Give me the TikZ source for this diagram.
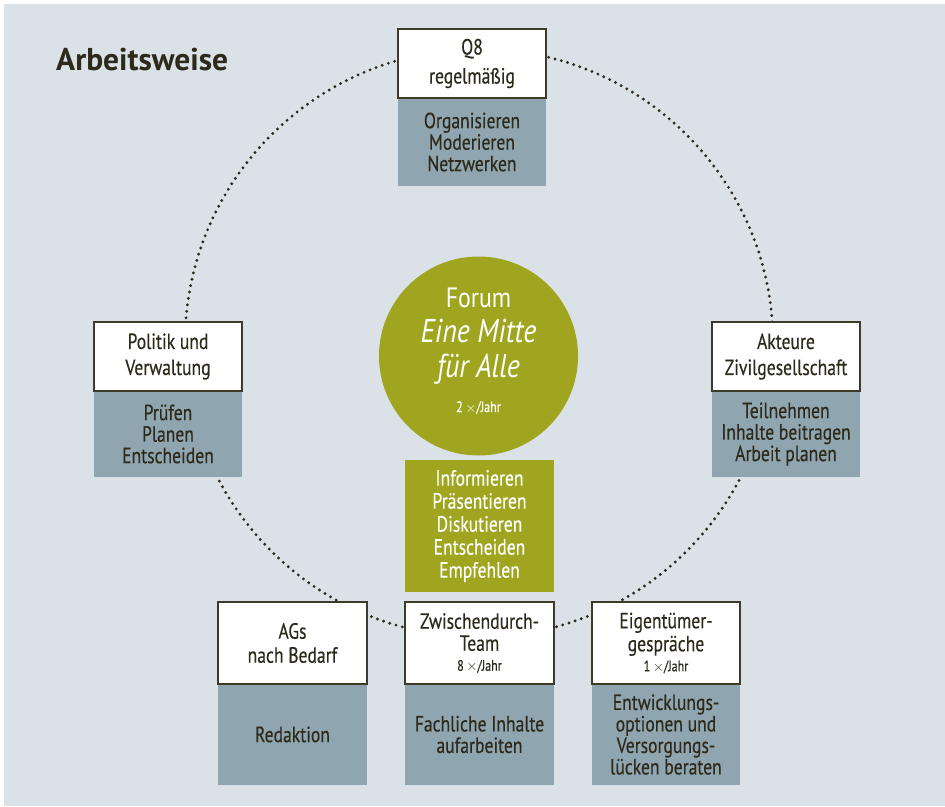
\documentclass[tikz,border=0pt]{standalone}
\usepackage{fontspec}
\setmainfont{PT Sans}[FakeStretch=0.8, FakeBold=0.35]
\newfontfamily\titlefont{PT Sans}
\newfontfamily\forumfont{PT Sans}[FakeStretch=0.85]
\definecolor{bgc}{HTML}{DAE2E8}
\definecolor{greybox}{HTML}{8FA5AF}
\definecolor{olive}{HTML}{A0A51F}
\definecolor{ink}{HTML}{2D2A1C}
\definecolor{boxline}{HTML}{3D3A2A}
\newcommand{\timessign}{\ensuremath{\times}}
\begin{document}
\begin{tikzpicture}[x=1pt,y=-1pt,
  wbox/.style={draw=boxline, line width=1.3pt, fill=white, text=ink, minimum width=148pt, align=center, inner sep=0pt, font=\fontsize{22}{24}\selectfont},
  gbox/.style={fill=greybox, text=ink, minimum width=148pt, align=center, inner sep=0pt, font=\fontsize{22}{21.5}\selectfont},
  obox/.style={fill=olive, text=white, minimum width=149pt, align=center, inner sep=0pt, font=\fontsize{22}{23}\selectfont},
  ring/.style={draw=ink, line width=3.2pt, dash pattern=on 0pt off 6.5pt, line cap=round}
]
\useasboundingbox (0,0) rectangle (945,806);
\fill[white] (0,0) rectangle (945,806);
\fill[bgc] (4,4) rectangle (945,806);

% dotted ring
\draw[ring] (479,343) circle[radius=294];

% title
\node[anchor=base west, text=ink, inner sep=0pt, font=\titlefont\bfseries\fontsize{31.5}{33}\selectfont] (title) at (56,70) {Arbeitsweise};

% Q8
\node[gbox, minimum height=88pt] (q8g) at (472,142) {Organisieren\\Moderieren\\Netzwerken};
\node[wbox, minimum height=69pt, font=\fontsize{22}{29}\selectfont] (q8w) at (472,63.5) {Q8\\regelmäßig};

% Politik
\node[gbox, minimum height=86pt] (polg) at (168,434) {Prüfen\\Planen\\Entscheiden};
\node[wbox, minimum height=69pt, font=\fontsize{22}{26}\selectfont] (polw) at (168,356.5) {Politik und\\Verwaltung};

% Akteure
\node[gbox, minimum height=86pt] (aktg) at (786,434) {Teilnehmen\\Inhalte beitragen\\Arbeit planen};
\node[wbox, minimum height=69pt, font=\fontsize{22}{26}\selectfont] (aktw) at (786,356.5) {Akteure\\Zivilgesellschaft};

% Forum
\node[circle, fill=olive, minimum size=199pt, inner sep=0pt] (forum) at (478.5,356) {};
\node[anchor=base, text=white, inner sep=0pt, font=\forumfont\fontsize{28}{30}\selectfont] (forum1) at (478.5,307) {Forum};
\node[anchor=base, text=white, inner sep=0pt, font=\forumfont\fontsize{33}{35}\selectfont\itshape] (forum2) at (478.5,342) {Eine Mitte};
\node[anchor=base, text=white, inner sep=0pt, font=\forumfont\fontsize{33}{35}\selectfont\itshape] (forum3) at (478.5,377) {für Alle};
\node[anchor=base, text=white, inner sep=0pt, font=\fontsize{15}{16}\selectfont] (forum4) at (478.5,412) {2\,\timessign/Jahr};

% olive box
\node[obox, minimum height=132pt] (akt) at (479.5,526) {Informieren\\Präsentieren\\Diskutieren\\Entscheiden\\Empfehlen};

% AGs
\node[gbox, minimum height=101pt, minimum width=149pt] (agsg) at (292.5,734.5) {Redaktion};
\node[wbox, minimum height=82pt, minimum width=149pt] (agsw) at (292.5,643) {AGs\\nach Bedarf};

% Zwischendurch
\node[gbox, minimum height=101pt, minimum width=149pt] (zwg) at (479.5,734.5) {Fachliche Inhalte\\aufarbeiten};
\node[wbox, minimum height=82pt, minimum width=149pt, font=\fontsize{22}{22}\selectfont] (zww) at (479.5,643) {Zwischendurch-\\Team\\[-2pt]{\fontsize{15}{15}\selectfont 8\,\timessign/Jahr}};

% Eigentuemer
\node[gbox, minimum height=101pt] (eig) at (666,734.5) {Entwicklungs-\\optionen und\\Versorgungs-\\lücken beraten};
\node[wbox, minimum height=82pt, font=\fontsize{22}{23}\selectfont] (eigw) at (666,643) {Eigentümer-\\gespräche\\[-3pt]{\fontsize{15}{15}\selectfont 1\,\timessign/Jahr}};
\end{tikzpicture}
\end{document}
